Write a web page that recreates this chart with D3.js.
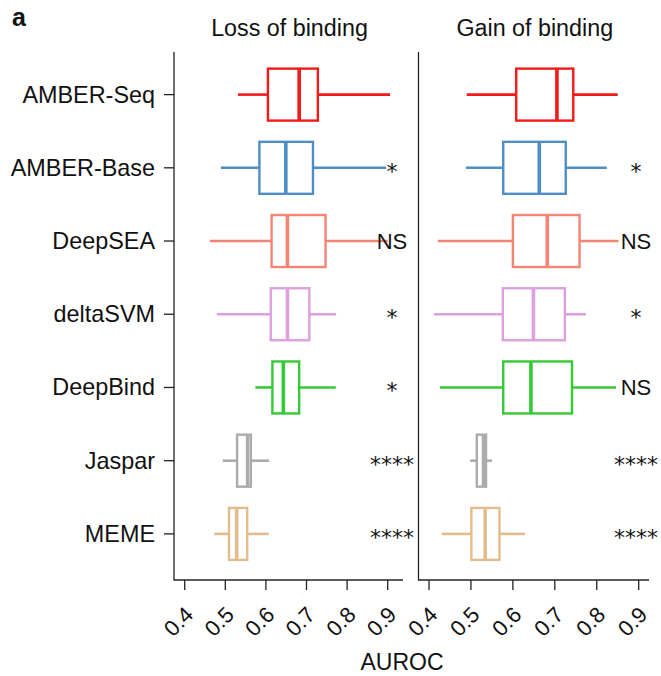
<!DOCTYPE html>
<html>
<head>
<meta charset="utf-8">
<script src="https://cdn.jsdelivr.net/npm/d3@7"></script>
<style>
  body { margin: 0; background: white; }
  svg text { font-family: "Liberation Sans", Arial, sans-serif; fill: #111; }
</style>
</head>
<body>
<div id="chart"></div>
<script>
// methods, top to bottom
var methods = ["AMBER-Seq", "AMBER-Base", "DeepSEA", "deltaSVM", "DeepBind", "Jaspar", "MEME"];
var colors = ["#f21a1a", "#4f8dc6", "#f48473", "#dca0dd", "#36c936", "#ababab", "#e2bc8c"];

// [whisker low, q1, median, q3, whisker high] of AUROC
var lossStats = [
    [0.531, 0.605, 0.682, 0.728, 0.906],
    [0.489, 0.584, 0.649, 0.716, 0.896],
    [0.462, 0.614, 0.653, 0.747, 0.900],
    [0.479, 0.612, 0.653, 0.707, 0.773],
    [0.574, 0.616, 0.643, 0.682, 0.772],
    [0.494, 0.529, 0.555, 0.563, 0.608],
    [0.473, 0.509, 0.528, 0.554, 0.607]
];
var gainStats = [
    [0.490, 0.608, 0.705, 0.744, 0.850],
    [0.488, 0.577, 0.663, 0.726, 0.824],
    [0.421, 0.600, 0.682, 0.759, 0.852],
    [0.412, 0.576, 0.649, 0.724, 0.774],
    [0.426, 0.577, 0.643, 0.741, 0.846],
    [0.498, 0.514, 0.530, 0.536, 0.550],
    [0.430, 0.501, 0.534, 0.568, 0.629]
];

// significance vs AMBER-Seq
var lossSig = ["", "*", "NS", "*", "*", "****", "****"];
var gainSig = ["", "*", "NS", "*", "NS", "****", "****"];

var xTicks = [0.4, 0.5, 0.6, 0.7, 0.8, 0.9];

var W = 661, H = 676;
var svg = d3.select("#chart").append("svg")
    .attr("width", W)
    .attr("height", H);

var y = d3.scaleBand()
    .domain(methods)
    .range([58, 570.5])
    .paddingInner(0.29)
    .paddingOuter(0.145);

//panel label
svg.append("text")
    .attr("x", 12).attr("y", 26)
    .attr("font-size", 25)
    .attr("font-weight", "bold")
    .text("a");

function drawPanel(title, stats, sig, x0, x1, range, sigX){
    var x = d3.scaleLinear().domain([0.4, 0.9]).range(range);
    var g = svg.append("g");

    //frame lines
    g.append("line")
        .attr("x1", x0).attr("x2", x0)
        .attr("y1", 52).attr("y2", 580.5)
        .attr("stroke", "#222").attr("stroke-width", 1.3);
    g.append("line")
        .attr("x1", x0).attr("x2", x1)
        .attr("y1", 580).attr("y2", 580)
        .attr("stroke", "#222").attr("stroke-width", 1.3);

    //x ticks
    var ticks = g.selectAll(".xt").data(xTicks).enter().append("g")
        .attr("transform", function(d){ return "translate(" + x(d) + ",580)"; });
    ticks.append("line")
        .attr("y1", 0).attr("y2", 10)
        .attr("stroke", "#222").attr("stroke-width", 1.3);
    ticks.append("text")
        .attr("transform", "translate(10,36) rotate(-45)")
        .attr("text-anchor", "end")
        .attr("font-size", 22)
        .text(function(d){ return d.toFixed(1); });

    //title
    g.append("text")
        .attr("x", (x0 + x1) / 2 + 1).attr("y", 36)
        .attr("text-anchor", "middle")
        .attr("font-size", 23.3)
        .text(title);

    //boxes
    var rows = g.selectAll(".row").data(stats).enter().append("g")
        .attr("transform", function(d, i){ return "translate(0," + y(methods[i]) + ")"; });
    var bw = y.bandwidth();
    rows.append("line")
        .attr("x1", function(d){ return x(d[0]); })
        .attr("x2", function(d){ return x(d[1]); })
        .attr("y1", bw / 2).attr("y2", bw / 2)
        .attr("stroke", function(d, i){ return colors[i]; })
        .attr("stroke-width", 2.6);
    rows.append("line")
        .attr("x1", function(d){ return x(d[3]); })
        .attr("x2", function(d){ return x(d[4]); })
        .attr("y1", bw / 2).attr("y2", bw / 2)
        .attr("stroke", function(d, i){ return colors[i]; })
        .attr("stroke-width", 2.6);
    rows.append("rect")
        .attr("x", function(d){ return x(d[1]); })
        .attr("width", function(d){ return x(d[3]) - x(d[1]); })
        .attr("y", 0).attr("height", bw)
        .attr("fill", "white")
        .attr("stroke", function(d, i){ return colors[i]; })
        .attr("stroke-width", 2.4);
    rows.append("line")
        .attr("x1", function(d){ return x(d[2]); })
        .attr("x2", function(d){ return x(d[2]); })
        .attr("y1", 0).attr("y2", bw)
        .attr("stroke", function(d, i){ return colors[i]; })
        .attr("stroke-width", 3.6);

    //significance marks
    rows.append("text")
        .attr("x", sigX)
        .attr("y", function(d, i){ return bw / 2 + (sig[i] == "NS" ? 8 : 11); })
        .attr("text-anchor", "middle")
        .attr("font-size", 22)
        .style("font-family", function(d, i){ return sig[i] == "NS" ? null : "DejaVu Sans"; })
        .text(function(d, i){ return sig[i]; });
}

//category labels and ticks on the left axis
var labels = svg.selectAll(".ylab").data(methods).enter().append("g")
    .attr("transform", function(d){ return "translate(174," + (y(d) + y.bandwidth() / 2) + ")"; });
labels.append("line")
    .attr("x1", -10).attr("x2", 0)
    .attr("stroke", "#222").attr("stroke-width", 1.3);
labels.append("text")
    .attr("x", -19).attr("y", 8)
    .attr("text-anchor", "end")
    .attr("font-size", 23.4)
    .text(function(d){ return d; });

drawPanel("Loss of binding", lossStats, lossSig, 174, 403, [184.7, 387.7], 392);
drawPanel("Gain of binding", gainStats, gainSig, 418.5, 649, [429, 638.7], 636);

svg.append("text")
    .attr("x", 402).attr("y", 670)
    .attr("text-anchor", "middle")
    .attr("font-size", 23)
    .text("AUROC");
</script>
</body>
</html>
